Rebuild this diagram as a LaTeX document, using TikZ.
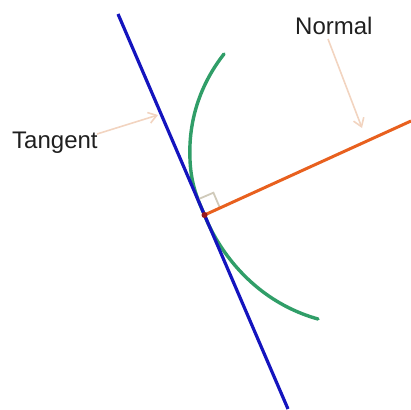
\documentclass[tikz,border=0pt]{standalone}
\usepackage{fontspec}
\setmainfont{Liberation Sans}
\usetikzlibrary{arrows.meta,calc}
\definecolor{tanblue}{RGB}{20,20,190}
\definecolor{curvegreen}{RGB}{48,158,104}
\definecolor{normorange}{RGB}{232,96,30}
\definecolor{peach}{RGB}{242,212,192}
\definecolor{markgray}{RGB}{208,202,186}
\definecolor{dotred}{RGB}{150,24,30}
\begin{document}
\begin{tikzpicture}[x=1pt,y=-1pt,
  lbl/.style={font=\fontsize{24}{28}\selectfont, inner sep=0pt, text=black!88},
  pointer/.style={draw=peach, line width=1.6pt, -{Straight Barb[length=8pt,width=11pt,line width=1.6pt]}},
  tline/.style={draw=tanblue, line width=3.2pt},
  nline/.style={draw=normorange, line width=3pt},
  curve/.style={draw=curvegreen, line width=3.4pt, line cap=round},
  rmark/.style={draw=markgray, line width=1.8pt}]
\useasboundingbox (0,0) rectangle (411,409);
% key points
\coordinate (T1) at (118,14);
\coordinate (T2) at (288,409);
\coordinate (P) at (204.5,215);
\coordinate (N) at (411,121);
% green curve
\draw[curve] (224,54) .. controls (202,82) and (188,118) .. (190,160)
  .. controls (191,185) and (198,200) .. (P)
  .. controls (216,245) and (250,300) .. (318,319);
% right-angle marker
\draw[rmark] ($(P)+(-6.7,-15.6)$) -- ++(15.6,-6.7) -- ($(P)+(15.6,-6.7)$);
% tangent and normal
\draw[tline] (T1) -- (T2);
\draw[nline] (P) -- (N);
\fill[dotred] (P) circle (3pt);
% labels
\node[lbl, anchor=base west] (tanlbl) at (12,148) {Tangent};
\node[lbl, anchor=base west] (normlbl) at (295,35) {Normal};
\coordinate (tanstart) at (97,134);
\coordinate (tantip) at (158,115);
\coordinate (normstart) at (328,39);
\coordinate (normtip) at (362,128);
\draw[pointer] (tanstart) -- (tantip);
\draw[pointer] (normstart) -- (normtip);
\end{tikzpicture}
\end{document}
